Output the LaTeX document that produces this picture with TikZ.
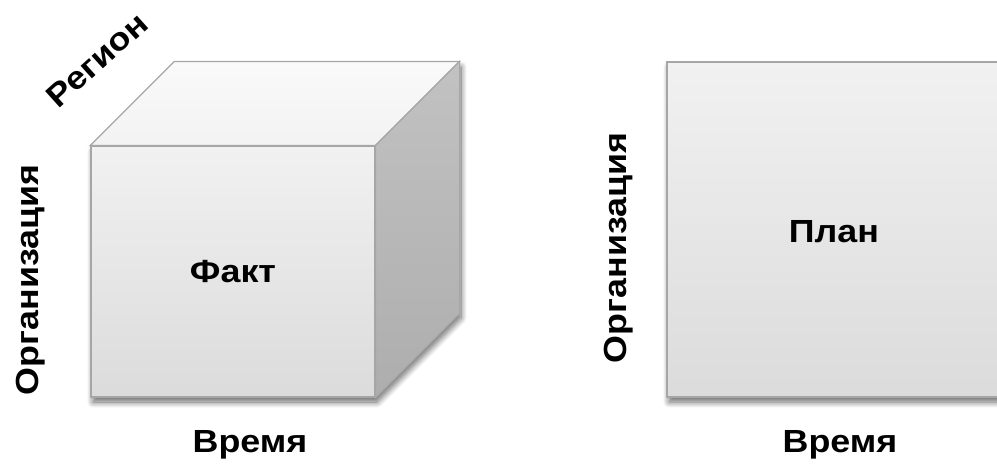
\documentclass[tikz,border=0pt]{standalone}
\usepackage{fontspec}
\setmainfont{Liberation Sans}
\usetikzlibrary{calc,positioning,shadows.blur}
\newcommand{\widelabel}[1]{\scalebox{1.12}[1]{#1}}

\begin{document}
\begin{tikzpicture}[x=1pt,y=-1pt]
  \tikzset{
    edge/.style={draw=gray!70, line width=1.2pt, line join=miter},
    drop/.style={blur shadow={shadow xshift=2pt, shadow yshift=-5pt,
        shadow blur radius=6pt, shadow blur steps=12, shadow opacity=60}},
    face/.style={edge, top color=gray!11, bottom color=gray!28,
        inner sep=0pt, font=\bfseries\fontsize{32}{32}\selectfont},
    axislabel/.style={font=\bfseries\fontsize{32}{32}\selectfont, inner sep=0pt}
  }
  \useasboundingbox (0,0) rectangle (997,466);

  % cube: front face carries the label, top and side follow its corners
  \coordinate (d) at (84,-84);
  \path[drop, fill=white] (91,397) -- (375,397) -- ($(375,397)+(d)$)
    -- ($(375,146)+(d)$) -- ($(91,146)+(d)$) -- (91,146) -- cycle;
  \node[face, minimum width=284pt, minimum height=251pt] (fact) at (233,271.5) {\widelabel{Факт}};
  \path[edge, top color=gray!4, bottom color=gray!10]
    (fact.north west) -- ($(fact.north west)+(d)$) -- ($(fact.north east)+(d)$)
    -- (fact.north east) -- cycle;
  \path[edge, top color=gray!48, bottom color=gray!64]
    (fact.north east) -- ($(fact.north east)+(d)$) -- ($(fact.south east)+(d)$)
    -- (fact.south east) -- cycle;

  % flat plan
  \node[face, drop, minimum width=333pt, minimum height=335pt] (plan) at (833.5,229.5) {};
  \node[axislabel] (plantext) at (834,232) {\widelabel{План}};

  % axis labels
  \node[axislabel, anchor=base] (time1) at (250,452) {\widelabel{Время}};
  \node[axislabel, anchor=base] (time2) at (840,452) {\widelabel{Время}};
  \node[axislabel, anchor=base, rotate=90] (org1) at (38,280) {\widelabel{Организация}};
  \node[axislabel, anchor=base, rotate=90] (org2) at (626,248) {\widelabel{Организация}};
  \node[axislabel, rotate=42] (region) at (97,60) {\widelabel{Регион}};
\end{tikzpicture}
\end{document}
